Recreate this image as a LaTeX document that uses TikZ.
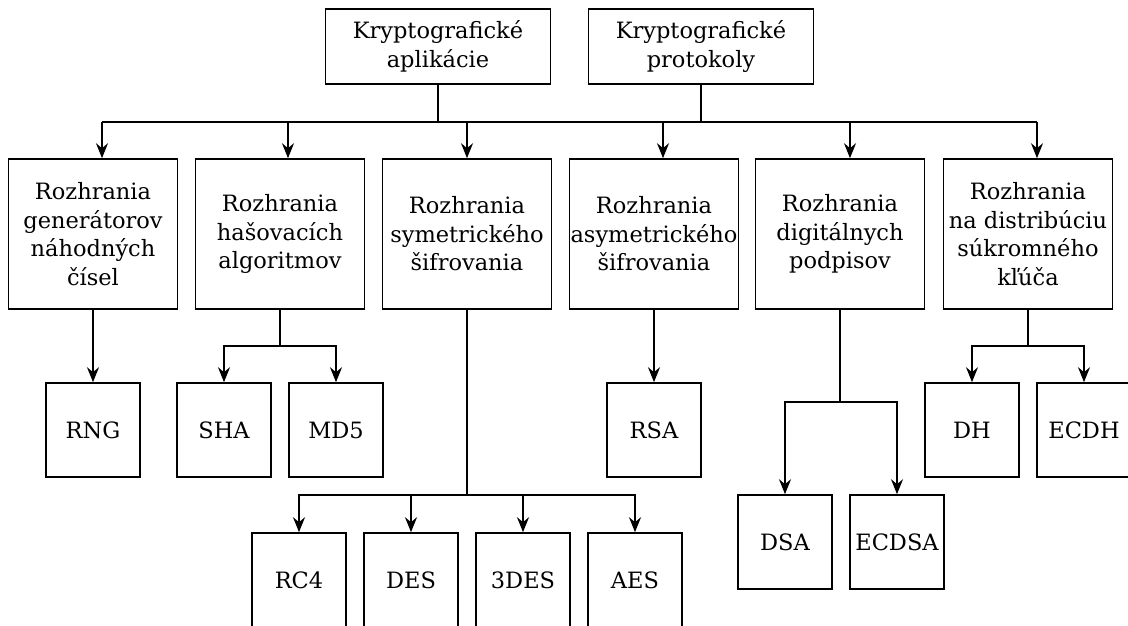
\documentclass[tikz,border=0pt]{standalone}
\usepackage{fontspec}
\setmainfont{DejaVu Serif}
\usetikzlibrary{arrows.meta}
\begin{document}
\begin{tikzpicture}[x=1pt,y=-1pt,
  box/.style={draw,line width=1.6pt,inner sep=0pt,align=center,
    font=\fontsize{22.5}{28.5}\selectfont},
  topbox/.style={box,minimum width=225pt,minimum height=75pt},
  midbox/.style={box,minimum width=169pt,minimum height=150pt},
  leafbox/.style={box,minimum width=94pt,minimum height=94pt},
  wire/.style={line width=1.6pt},
  arr/.style={wire,-{Stealth[length=15pt,width=12pt,inset=5pt]}}]
\useasboundingbox (0,0) rectangle (1128,626);
\fill[white] (0,0) rectangle (1128,626);

% top level
\node[topbox] (app)  at (438,46.5)  {Kryptografické\\aplikácie};
\node[topbox] (prot) at (701,46.5) {Kryptografické\\protokoly};

% interface layer
\node[midbox] (gen)  at (93,234)  {Rozhrania\\generátorov\\náhodných\\čísel};
\node[midbox] (hash) at (280,234) {Rozhrania\\hašovacích\\algoritmov};
\node[midbox] (sym)  at (467,234)   {Rozhrania\\symetrického\\šifrovania};
\node[midbox] (asym) at (654,234) {Rozhrania\\asymetrického\\šifrovania};
\node[midbox] (dig)  at (840,234) {Rozhrania\\digitálnych\\podpisov};
\node[midbox] (key)  at (1028,234) {Rozhrania\\na distribúciu\\súkromného\\kľúča};

% algorithms
\node[leafbox] (rng)   at (93,430)  {RNG};
\node[leafbox] (sha)   at (224,430) {SHA};
\node[leafbox] (md5)   at (336,430) {MD5};
\node[leafbox] (rsa)   at (654,430) {RSA};
\node[leafbox] (dh)    at (972,430) {DH};
\node[leafbox] (ecdh)  at (1084,430) {ECDH};
\node[leafbox] (dsa)   at (785,542) {DSA};
\node[leafbox] (ecdsa) at (897,542) {ECDSA};
\node[leafbox] (rc4)   at (299,580) {RC4};
\node[leafbox] (des)   at (411,580)   {DES};
\node[leafbox] (tdes)  at (523,580)   {3DES};
\node[leafbox] (aes)   at (635,580) {AES};

% main bus
\coordinate (b1) at (102,122);
\coordinate (b2) at (288,122);
\coordinate (b3) at (467,122);
\coordinate (b4) at (663,122);
\coordinate (b5) at (850,122);
\coordinate (b6) at (1037,122);
\draw[wire] (b1) -- (b6);
\draw[wire] (app.south) -- (app.south |- b1);
\draw[wire] (prot.south) -- (prot.south |- b1);
\draw[arr] (b1) -- (b1 |- gen.north);
\draw[arr] (b2) -- (b2 |- hash.north);
\draw[arr] (b3) -- (b3 |- sym.north);
\draw[arr] (b4) -- (b4 |- asym.north);
\draw[arr] (b5) -- (b5 |- dig.north);
\draw[arr] (b6) -- (b6 |- key.north);

% branches to algorithms
\coordinate (hj) at (280,346);
\coordinate (sj) at (467,495);
\coordinate (dj) at (840,402);
\coordinate (kj) at (1028,346);

\draw[arr] (gen.south) -- (rng.north);
\draw[arr] (asym.south) -- (rsa.north);

\draw[wire] (hash.south) -- (hj);
\draw[arr] (hj) -| (sha.north);
\draw[arr] (hj) -| (md5.north);

\draw[wire] (sym.south) -- (sj);
\draw[arr] (sj) -| (rc4.north);
\draw[arr] (sj) -| (des.north);
\draw[arr] (sj) -| (tdes.north);
\draw[arr] (sj) -| (aes.north);

\draw[wire] (dig.south) -- (dj);
\draw[arr] (dj) -| (dsa.north);
\draw[arr] (dj) -| (ecdsa.north);

\draw[wire] (key.south) -- (kj);
\draw[arr] (kj) -| (dh.north);
\draw[arr] (kj) -| (ecdh.north);
\end{tikzpicture}
\end{document}
